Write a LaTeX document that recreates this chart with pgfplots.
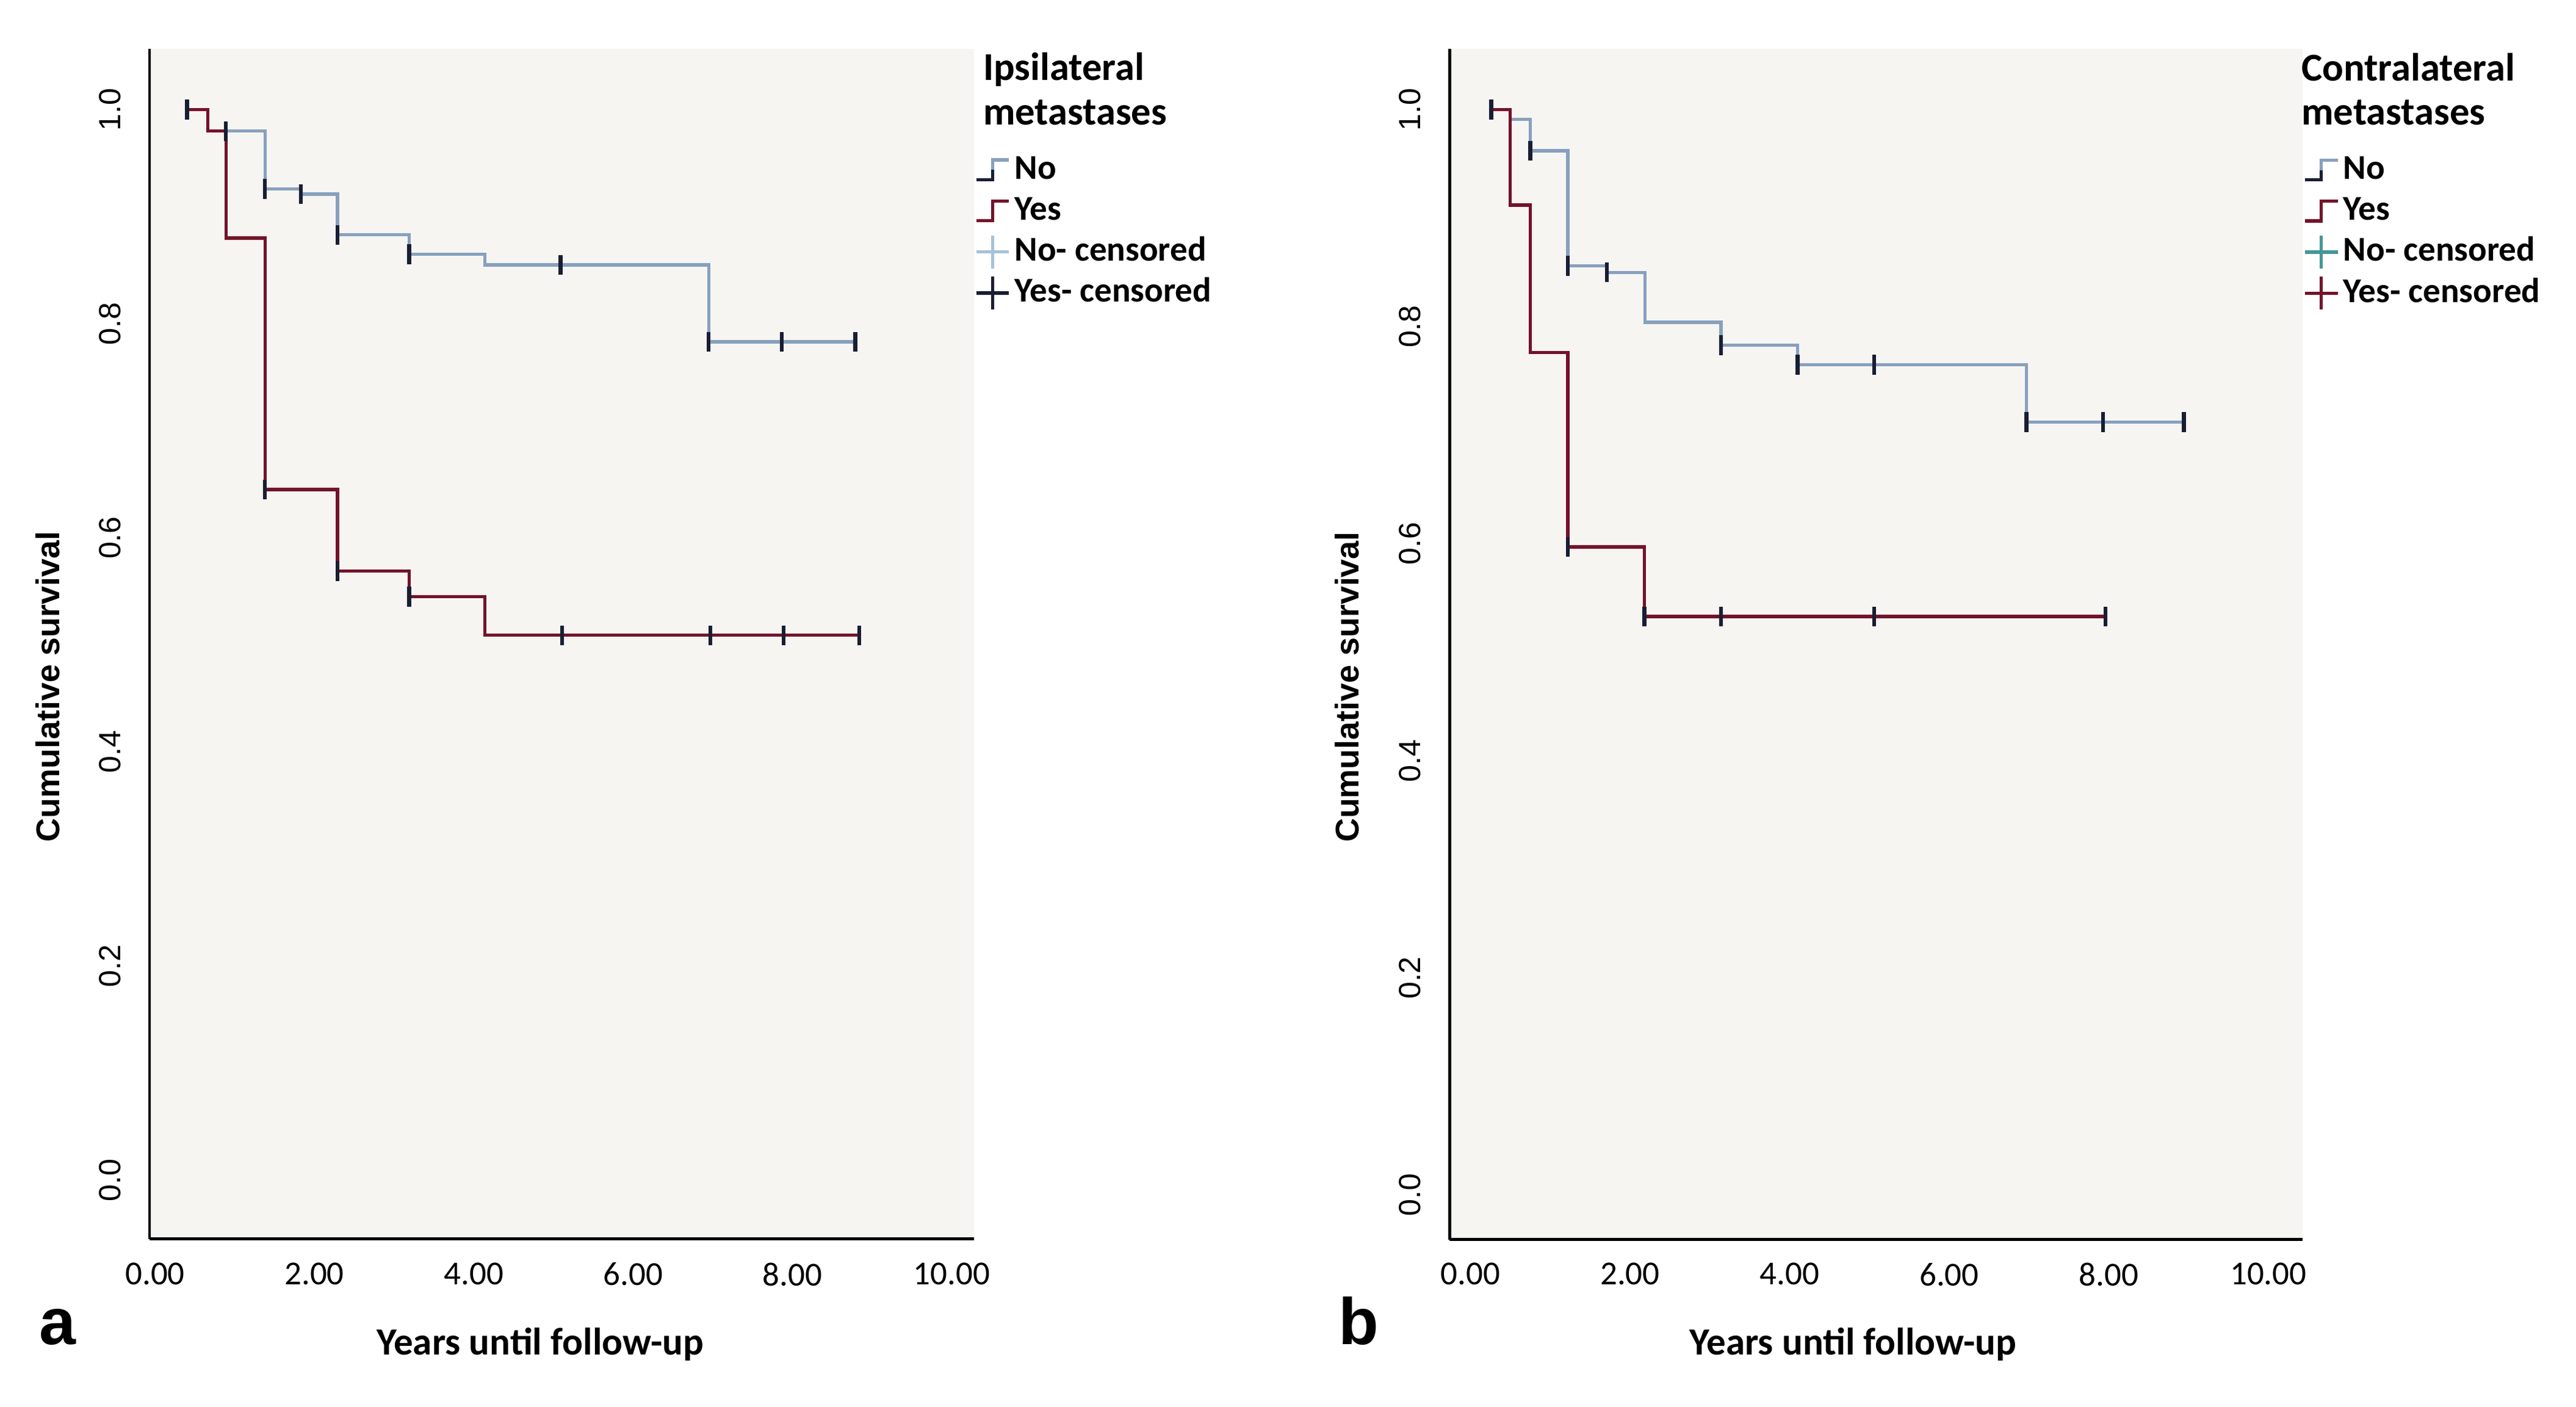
\documentclass[border=0pt]{standalone}
\usepackage{fontspec}
\setmainfont{Carlito}
\newfontfamily\arialf{Liberation Sans}
\usepackage{pgfplots}
\pgfplotsset{compat=1.18}

\definecolor{bgcol}{RGB}{247,245,242}
\definecolor{nocol}{RGB}{135,160,190}
\definecolor{yescol}{RGB}{115,18,42}
\definecolor{cenc}{RGB}{25,30,50}
\definecolor{nolegA}{RGB}{165,195,215}
\definecolor{nolegB}{RGB}{70,150,150}

\pgfplotsset{
  km/.style={
    scale only axis,
    axis lines=left,
    axis line style={-, black, line width=0.9pt},
    axis background/.style={fill=bgcol},
    major tick length=0pt,
    xtick={0,2,4,6,8,10},
    xticklabels={0.00,2.00,4.00,6.00,8.00,10.00},
    ytick={0,0.2,0.4,0.6,0.8,1.0},
    yticklabels={0.0,0.2,0.4,0.6,0.8,1.0},
    xticklabel style={font=\fontsize{10.2}{12}\selectfont, inner sep=0pt, anchor=north},
    xticklabel shift=7pt,
    yticklabel style={font=\arialf\fontsize{9.3}{11}\selectfont, rotate=90, anchor=south, inner sep=0pt},
    yticklabel shift=8.6pt,
    xlabel={Years until follow-up},
    ylabel={Cumulative survival},
    legend style={draw=none, fill=none, anchor=north west, inner sep=0pt,
      row sep=0pt, font=\bfseries\fontsize{10.6}{12}\selectfont,
      nodes={inner xsep=1.2pt, inner ysep=0pt, text height=9pt, text depth=3.5pt}},
    legend cell align=left,
    kmline/.style={const plot, line width=1pt, mark=none},
    kmcens/.style={only marks, mark=|, mark size=3pt, mark options={cenc, line width=1.2pt}},
  },
  kmx/.style={xlabel style={at={(axis description cs:#1)}, anchor=center,
    font=\bfseries\fontsize{11.7}{13}\selectfont}},
  kmy/.style={ylabel style={at={(axis description cs:#1)}, anchor=center, rotate=0,
    font=\arialf\bfseries\fontsize{10}{12}\selectfont}},
}

\begin{document}
\begin{tikzpicture}
\path (0,0) rectangle (784pt,428pt);

% panel a
\begin{axis}[km,
  at={(45.5pt,51pt)}, anchor=south west,
  width=250.9pt, height=362.2pt,
  xmin=-0.07, xmax=10.28, ymin=-0.055, ymax=1.057,
  kmx={0.474,-0.0884}, kmy={-0.1236,0.464},
  legend style={at={(axis description cs:1,0.916)}},
  clip=false]
\addplot[kmline, nocol,
  legend image code/.code={\draw[cenc, line width=1pt] (0pt,-3pt) -- (5pt,-3pt) -- (5pt,0pt);
    \draw[nocol, line width=1pt] (5pt,0pt) -- (5pt,3pt) -- (10pt,3pt);}]
  coordinates {(0.40,1.0) (0.66,0.980) (1.38,0.926) (1.83,0.921) (2.29,0.883)
    (3.19,0.865) (4.14,0.855) (6.95,0.783) (8.79,0.783)};
\addlegendentry{No}
\addplot[kmline, yescol,
  legend image code/.code={\draw[yescol, line width=1pt] (0pt,-3pt) -- (5pt,-3pt) -- (5pt,3pt) -- (10pt,3pt);}]
  coordinates {(0.40,1.0) (0.66,0.980) (0.89,0.880) (1.38,0.645) (2.29,0.569)
    (3.19,0.545) (4.14,0.509) (8.84,0.509)};
\addlegendentry{Yes}
\addplot[kmcens,
  legend image code/.code={\draw[nolegA, line width=1pt] (0pt,0pt) -- (10pt,0pt) (5pt,-5pt) -- (5pt,5pt);}]
  coordinates {(0.40,1.0) (1.38,0.926) (1.83,0.921) (2.29,0.883) (3.19,0.865)
    (5.09,0.855) (6.95,0.783) (7.87,0.783) (8.79,0.783)};
\addlegendentry{No- censored}
\addplot[kmcens,
  legend image code/.code={\draw[cenc, line width=1pt] (0pt,0pt) -- (10pt,0pt) (5pt,-5pt) -- (5pt,5pt);}]
  coordinates {(0.40,1.0) (0.89,0.980) (1.38,0.645) (2.29,0.569) (3.19,0.545)
    (5.11,0.509) (6.97,0.509) (7.89,0.509) (8.84,0.509)};
\addlegendentry{Yes- censored}
\node[anchor=north west, align=left, inner sep=0pt, font=\bfseries\fontsize{12}{13.5}\selectfont]
  at (axis description cs:1.0105,0.997) {Ipsilateral\\metastases};
\node[anchor=base, inner sep=0pt, font=\arialf\bfseries\fontsize{20}{22}\selectfont]
  at (axis description cs:-0.1116,-0.0884) {a};
\end{axis}

% panel b
\begin{axis}[km,
  at={(441.2pt,50.85pt)}, anchor=south west,
  width=259.6pt, height=362.3pt,
  xmin=-0.26, xmax=10.43, ymin=-0.041, ymax=1.056,
  kmx={0.473,-0.0879}, kmy={-0.120,0.464},
  legend style={at={(axis description cs:1,0.916)}},
  clip=false]
\addplot[kmline, nocol,
  legend image code/.code={\draw[cenc, line width=1pt] (0pt,-3pt) -- (5pt,-3pt) -- (5pt,0pt);
    \draw[nocol, line width=1pt] (5pt,0pt) -- (5pt,3pt) -- (10pt,3pt);}]
  coordinates {(0.26,1.0) (0.50,0.991) (0.75,0.962) (1.22,0.856) (1.71,0.850)
    (2.19,0.804) (3.14,0.783) (4.10,0.765) (6.97,0.712) (8.94,0.712)};
\addlegendentry{No}
\addplot[kmline, yescol,
  legend image code/.code={\draw[yescol, line width=1pt] (0pt,-3pt) -- (5pt,-3pt) -- (5pt,3pt) -- (10pt,3pt);}]
  coordinates {(0.26,1.0) (0.50,0.912) (0.75,0.776) (1.22,0.597) (2.18,0.533) (7.96,0.533)};
\addlegendentry{Yes}
\addplot[kmcens,
  legend image code/.code={\draw[nolegB, line width=1pt] (0pt,0pt) -- (10pt,0pt) (5pt,-5pt) -- (5pt,5pt);}]
  coordinates {(0.26,1.0) (0.75,0.962) (1.22,0.856) (1.71,0.850) (3.14,0.783)
    (4.10,0.765) (5.06,0.765) (6.97,0.712) (7.93,0.712) (8.94,0.712)};
\addlegendentry{No- censored}
\addplot[kmcens,
  legend image code/.code={\draw[yescol, line width=1pt] (0pt,0pt) -- (10pt,0pt) (5pt,-5pt) -- (5pt,5pt);}]
  coordinates {(0.26,1.0) (1.22,0.597) (2.18,0.533) (3.14,0.533) (5.06,0.533) (7.96,0.533)};
\addlegendentry{Yes- censored}
\node[anchor=north west, align=left, inner sep=0pt, font=\bfseries\fontsize{12}{13.5}\selectfont]
  at (axis description cs:0.998,0.997) {Contralateral\\metastases};
\node[anchor=base, inner sep=0pt, font=\arialf\bfseries\fontsize{20}{22}\selectfont]
  at (axis description cs:-0.1067,-0.0884) {b};
\end{axis}
\end{tikzpicture}
\end{document}
